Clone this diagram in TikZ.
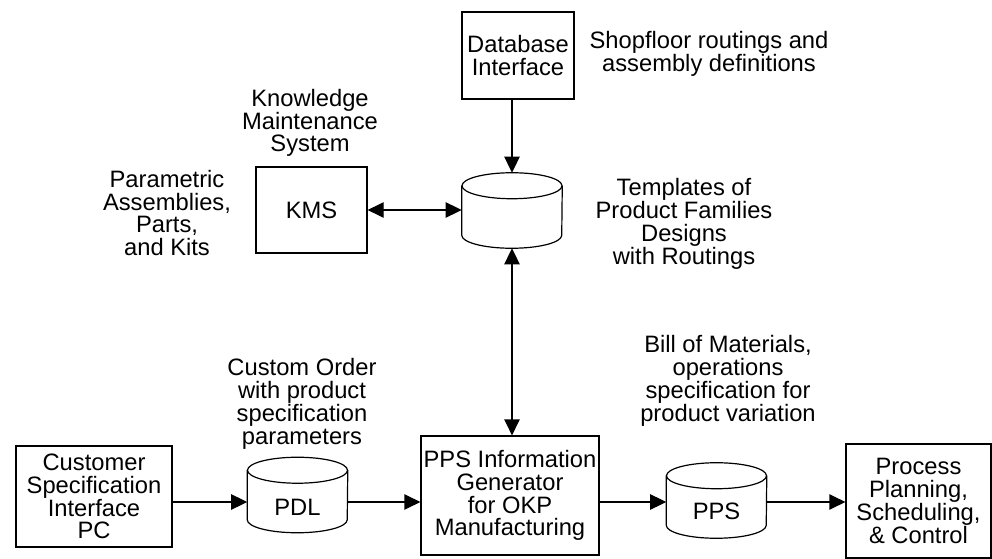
\documentclass[tikz,border=0pt]{standalone}
\usepackage{fontspec}
\setmainfont{Liberation Sans}
\usetikzlibrary{arrows.meta,calc}

\tikzset{
	every node/.style={font=\fontsize{17.8}{17.1}\selectfont, align=center, inner sep=0pt},
	box/.style={draw, line width=0.9pt},
	drum/.style={minimum width=75pt, minimum height=56.25pt},
	flow/.style={line width=0.9pt, -{Triangle[length=12pt,width=11.5pt]}},
	both/.style={line width=0.9pt, {Triangle[length=12pt,width=11.5pt]}-{Triangle[length=12pt,width=11.5pt]}},
}

\begin{document}
\begin{tikzpicture}[x=0.75pt,y=0.75pt,yscale=-1,xscale=1]
	\useasboundingbox (0,0) rectangle (992,559);
	% boxes
	\node [box, minimum width=84pt, minimum height=65.25pt] (dbi) at (518,55.5) {Database\\Interface};
	\node [box, minimum width=83.25pt, minimum height=64.5pt] (kms) at (311.5,210) {KMS};
	\node [box, minimum width=133.5pt, minimum height=89.25pt] (gen) at (510,495.5) {PPS Information\\Generator\\for OKP\\Manufacturing};
	\node [box, minimum width=117pt, minimum height=75.75pt] (cust) at (94,496.5) {Customer\\Specification\\Interface\\PC};
	\node [box, minimum width=108.75pt, minimum height=85.5pt] (proc) at (918.5,501) {Process\\Planning,\\Scheduling,\\\& Control};
	% drums
	\node [drum] (tmpl) at (512,210.5) {};
	\node [drum] (pdl) at (297.5,495) {};
	\node [drum] (pps) at (716.5,500.5) {};
	\foreach \d in {tmpl,pdl,pps} {
		\draw [line width=0.9pt] ($(\d.north west)+(0,13)$) -- ($(\d.south west)+(0,-13)$)
			arc [start angle=180, end angle=0, x radius=50, y radius=13]
			-- ($(\d.north east)+(0,13)$);
		\draw [line width=0.9pt] ($(\d.north)+(0,13)$) ellipse [x radius=50, y radius=13];
	}
	\node (pdltxt) at ($(pdl)+(0,12)$) {PDL};
	\node (ppstxt) at ($(pps)+(0,11)$) {PPS};
	% labels
	\node (shop) at (709,54) {Shopfloor routings and\\assembly definitions};
	\node (kmslbl) at (310,123) {Knowledge\\Maintenance\\System};
	\node (parts) at (167,213) {Parametric\\Assemblies,\\Parts,\\and Kits};
	\node (tmpllbl) at (684,224) {Templates of\\Product Families\\Designs\\with Routings};
	\node (custlbl) at (302,404) {Custom Order\\with product\\specification\\parameters};
	\node (bomlbl) at (728,381) {Bill of Materials,\\operations\hspace*{8pt}\\specification for\\product variation};
	% connectors
	\coordinate (row) at (0,502);
	\draw [flow] (dbi.south -| tmpl) -- (tmpl.north);
	\draw [both] (kms.east) -- (kms.east -| tmpl.west);
	\draw [both] (tmpl.south) -- (tmpl.south |- gen.north);
	\draw [flow] (cust.east |- row) -- (pdl.west |- row);
	\draw [flow] (pdl.east |- row) -- (gen.west |- row);
	\draw [flow] (gen.east |- row) -- (pps.west |- row);
	\draw [flow] (pps.east |- row) -- (proc.west |- row);
\end{tikzpicture}
\end{document}
